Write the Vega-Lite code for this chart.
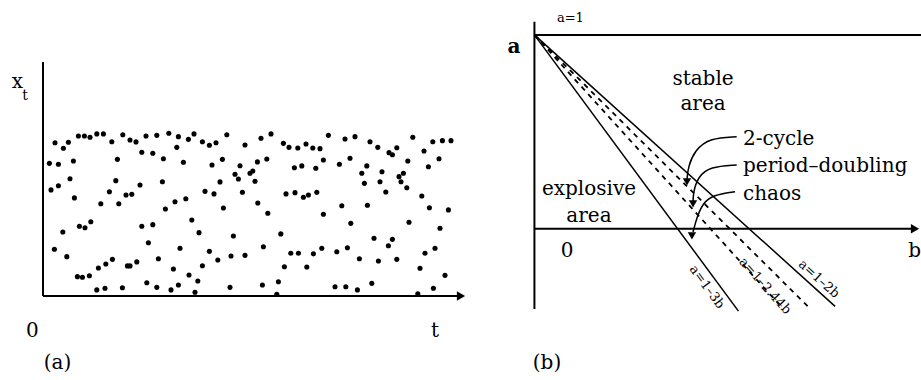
{
  "$schema": "https://vega.github.io/schema/vega-lite/v6.json",
  "padding": 0,
  "spacing": 0,
  "bounds": "flush",
  "background": "white",
  "config": {
    "view": {"stroke": null},
    "text": {"font": "DejaVu Serif", "color": "black"}
  },
  "datasets": {
    "series": [
      {"t":6.0,"x":0.958},{"t":10.2,"x":0.923},{"t":12.7,"x":0.961},{"t":17.7,"x":1.0},{"t":20.7,"x":1.0},{"t":23.5,"x":0.992},{"t":26.9,"x":1.013},{"t":30.2,"x":1.013},{"t":34.4,"x":0.964},{"t":39.9,"x":1.008},{"t":43.5,"x":0.975},{"t":46.5,"x":0.963},{"t":51.5,"x":1.0},{"t":56.9,"x":1.004},{"t":62.9,"x":1.017},{"t":67.7,"x":0.996},{"t":66.9,"x":0.929},{"t":3.2,"x":0.829},{"t":7.7,"x":0.823},{"t":15.2,"x":0.844},{"t":37.2,"x":0.854},{"t":49.4,"x":0.898},{"t":54.9,"x":0.892},{"t":60.2,"x":0.858},{"t":70.2,"x":0.836},{"t":4.0,"x":0.663},{"t":7.7,"x":0.689},{"t":13.5,"x":0.733},{"t":15.7,"x":0.613},{"t":28.9,"x":0.577},{"t":33.2,"x":0.652},{"t":36.4,"x":0.721},{"t":37.9,"x":0.577},{"t":41.5,"x":0.631},{"t":44.4,"x":0.636},{"t":48.5,"x":0.694},{"t":59.7,"x":0.714},{"t":61.2,"x":0.544},{"t":66.0,"x":0.589},{"t":9.9,"x":0.4},{"t":18.2,"x":0.436},{"t":21.0,"x":0.427},{"t":23.9,"x":0.464},{"t":49.4,"x":0.436},{"t":54.9,"x":0.446},{"t":52.7,"x":0.333},{"t":5.7,"x":0.292},{"t":11.9,"x":0.246},{"t":27.7,"x":0.175},{"t":31.4,"x":0.2},{"t":34.7,"x":0.229},{"t":42.2,"x":0.188},{"t":43.5,"x":0.188},{"t":46.9,"x":0.213},{"t":57.7,"x":0.233},{"t":68.5,"x":0.298},{"t":17.2,"x":0.121},{"t":19.7,"x":0.117},{"t":23.2,"x":0.127},{"t":65.2,"x":0.169},{"t":26.9,"x":0.038},{"t":31.0,"x":0.048},{"t":39.7,"x":0.052},{"t":51.9,"x":0.083},{"t":56.9,"x":0.054},{"t":64.0,"x":0.038},{"t":67.7,"x":0.069},
      {"t":72.7,"x":0.979},{"t":75.5,"x":1.013},{"t":79.7,"x":0.964},{"t":83.2,"x":0.942},{"t":86.5,"x":0.958},{"t":91.9,"x":1.008},{"t":101.0,"x":0.944},{"t":109.0,"x":0.986},{"t":114.0,"x":1.013},{"t":120.2,"x":0.954},{"t":123.0,"x":0.929},{"t":127.4,"x":0.925},{"t":131.5,"x":0.95},{"t":134.9,"x":0.925},{"t":138.5,"x":0.921},{"t":84.5,"x":0.819},{"t":89.7,"x":0.854},{"t":98.5,"x":0.814},{"t":96.0,"x":0.761},{"t":97.7,"x":0.731},{"t":103.5,"x":0.767},{"t":104.9,"x":0.781},{"t":106.0,"x":0.717},{"t":107.2,"x":0.838},{"t":111.9,"x":0.856},{"t":125.7,"x":0.802},{"t":129.4,"x":0.813},{"t":136.4,"x":0.798},{"t":140.2,"x":0.85},{"t":88.5,"x":0.713},{"t":81.0,"x":0.654},{"t":85.5,"x":0.638},{"t":99.7,"x":0.648},{"t":71.4,"x":0.608},{"t":107.4,"x":0.581},{"t":90.2,"x":0.55},{"t":112.4,"x":0.517},{"t":121.5,"x":0.638},{"t":126.0,"x":0.646},{"t":130.2,"x":0.617},{"t":132.7,"x":0.631},{"t":136.9,"x":0.648},{"t":74.4,"x":0.475},{"t":140.2,"x":0.511},{"t":78.0,"x":0.396},{"t":95.2,"x":0.375},{"t":118.9,"x":0.388},{"t":83.2,"x":0.279},{"t":87.4,"x":0.225},{"t":94.0,"x":0.25},{"t":101.0,"x":0.254},{"t":110.2,"x":0.308},{"t":123.9,"x":0.267},{"t":127.7,"x":0.267},{"t":135.2,"x":0.263},{"t":139.4,"x":0.298},{"t":79.7,"x":0.189},{"t":120.7,"x":0.183},{"t":131.9,"x":0.181},{"t":73.0,"x":0.131},{"t":77.4,"x":0.094},{"t":117.7,"x":0.089},{"t":76.0,"x":0.023},{"t":93.5,"x":0.054},{"t":109.7,"x":0.069},{"t":116.9,"x":0.011},
      {"t":142.7,"x":1.004},{"t":151.0,"x":0.981},{"t":156.0,"x":0.996},{"t":163.5,"x":0.964},{"t":167.4,"x":0.929},{"t":173.0,"x":0.896},{"t":174.7,"x":0.883},{"t":176.9,"x":0.927},{"t":184.9,"x":0.992},{"t":190.5,"x":0.906},{"t":194.9,"x":0.964},{"t":199.7,"x":0.971},{"t":204.0,"x":0.971},{"t":148.2,"x":0.823},{"t":153.5,"x":0.861},{"t":161.9,"x":0.813},{"t":159.4,"x":0.767},{"t":169.5,"x":0.777},{"t":182.4,"x":0.844},{"t":192.7,"x":0.808},{"t":198.0,"x":0.858},{"t":160.7,"x":0.704},{"t":168.5,"x":0.714},{"t":171.4,"x":0.65},{"t":178.0,"x":0.746},{"t":180.2,"x":0.767},{"t":179.0,"x":0.714},{"t":181.9,"x":0.677},{"t":189.4,"x":0.625},{"t":193.2,"x":0.552},{"t":202.7,"x":0.538},{"t":149.4,"x":0.564},{"t":162.2,"x":0.567},{"t":153.9,"x":0.454},{"t":183.0,"x":0.461},{"t":198.5,"x":0.423},{"t":165.5,"x":0.361},{"t":174.7,"x":0.354},{"t":172.7,"x":0.314},{"t":146.9,"x":0.277},{"t":152.2,"x":0.302},{"t":158.2,"x":0.233},{"t":167.7,"x":0.219},{"t":176.9,"x":0.229},{"t":191.0,"x":0.267},{"t":196.0,"x":0.298},{"t":188.5,"x":0.173},{"t":201.0,"x":0.129},{"t":146.0,"x":0.058},{"t":151.4,"x":0.058},{"t":157.2,"x":0.038},{"t":164.4,"x":0.079},{"t":187.4,"x":0.013},{"t":195.2,"x":0.048}
    ],
    "axesA": [
      {"t":0,"x":0,"t2":0,"x2":1.4625},
      {"t":0,"x":0,"t2":207.5,"x2":0}
    ],
    "arrowA": [{"t":209,"x":0}],
    "labelsA": [
      {"role":"main","text":"0","t":-5.3,"x":-0.256},
      {"role":"main","text":"t","t":196,"x":-0.256},
      {"role":"main","text":"(a)","t":7.25,"x":-0.456},
      {"role":"main","text":"x","t":-12.75,"x":1.3},
      {"role":"sub","text":"t","t":-9,"x":1.225}
    ],
    "axesB": [
      {"b":0,"a":1.068,"b2":0,"a2":-0.414},
      {"b":0,"a":0,"b2":0.88,"a2":0},
      {"b":0,"a":1,"b2":0.9,"a2":1}
    ],
    "bounds": [
      {"kind":"stability","name":"a=1–2b","b":0,"a":1,"b2":0.70,"a2":-0.40},
      {"kind":"stability","name":"a=1–3b","b":0,"a":1,"b2":0.475,"a2":-0.425},
      {"kind":"bifurcation","name":"a=1–2.44b","b":0,"a":1,"b2":0.57,"a2":-0.391},
      {"kind":"bifurcation","name":"a=1–2.2b","b":0,"a":1,"b2":0.64,"a2":-0.408}
    ],
    "pointers": [
      {"arrow":"2-cycle","i":0,"b":0.4709,"a":0.4749},
      {"arrow":"2-cycle","i":1,"b":0.4088,"a":0.4682},
      {"arrow":"2-cycle","i":2,"b":0.3738,"a":0.4064},
      {"arrow":"2-cycle","i":3,"b":0.3575,"a":0.3187},
      {"arrow":"2-cycle","i":4,"b":0.3552,"a":0.2517},
      {"arrow":"period-doubling","i":0,"b":0.4709,"a":0.3290},
      {"arrow":"period-doubling","i":1,"b":0.4088,"a":0.3202},
      {"arrow":"period-doubling","i":2,"b":0.3808,"a":0.2686},
      {"arrow":"period-doubling","i":3,"b":0.3692,"a":0.1845},
      {"arrow":"period-doubling","i":4,"b":0.3692,"a":0.1226},
      {"arrow":"chaos","i":0,"b":0.4670,"a":0.1913},
      {"arrow":"chaos","i":1,"b":0.4157,"a":0.1742},
      {"arrow":"chaos","i":2,"b":0.3925,"a":0.1329},
      {"arrow":"chaos","i":3,"b":0.3785,"a":0.0623},
      {"arrow":"chaos","i":4,"b":0.3692,"a":-0.0166}
    ],
    "heads": [
      {"arrow":"2-cycle","b":0.3552,"a":0.2414},
      {"arrow":"period-doubling","b":0.3692,"a":0.1278},
      {"arrow":"chaos","b":0.3667,"a":-0.0372}
    ],
    "arrowB": [{"b":0.886,"a":0}],
    "labelsB": [
      {"role":"region","text":"stable","b":0.3925,"a":0.7416,"align":"center"},
      {"role":"region","text":"area","b":0.3925,"a":0.6126,"align":"center"},
      {"role":"region","text":"explosive","b":0.127,"a":0.174,"align":"center"},
      {"role":"region","text":"area","b":0.127,"a":0.035,"align":"center"},
      {"role":"region","text":"2-cycle","b":0.4856,"a":0.4319,"align":"left"},
      {"role":"region","text":"period–doubling","b":0.4856,"a":0.2945,"align":"left"},
      {"role":"region","text":"chaos","b":0.4856,"a":0.1484,"align":"left"},
      {"role":"region","text":"0","b":0.0759,"a":-0.1455,"align":"center"},
      {"role":"region","text":"b","b":0.8705,"a":-0.1455,"align":"left"},
      {"role":"region","text":"(b)","b":0.0293,"a":-0.7234,"align":"center"},
      {"role":"axis","text":"a","b":-0.0476,"a":0.9064,"align":"center"},
      {"role":"small","text":"a=1","b":0.0525,"a":1.066,"align":"left"}
    ],
    "lineLabels": [
      {"name":"a=1–3b","b":0.4018,"a":-0.3001},
      {"name":"a=1–2.44b","b":0.5369,"a":-0.2949},
      {"name":"a=1–2b","b":0.6626,"a":-0.2588}
    ]
  },
  "hconcat": [
    {
      "width": 470,
      "height": 380,
      "encoding": {
        "x": {"field": "t", "type": "quantitative", "scale": {"domain": [-21.5, 213.5], "nice": false, "zero": false}, "axis": null},
        "y": {"field": "x", "type": "quantitative", "scale": {"domain": [-0.525, 1.85], "nice": false, "zero": false}, "axis": null}
      },
      "layer": [
        {
          "data": {"name": "axesA"},
          "mark": {"type": "rule", "color": "black", "strokeWidth": 2},
          "encoding": {"x2": {"field": "t2"}, "y2": {"field": "x2"}}
        },
        {
          "data": {"name": "arrowA"},
          "mark": {"type": "point", "shape": "triangle-right", "filled": true, "color": "black", "size": 90, "opacity": 1}
        },
        {
          "data": {"name": "series"},
          "mark": {"type": "point", "shape": "circle", "filled": true, "color": "black", "size": 26, "opacity": 1}
        },
        {
          "data": {"name": "labelsA"},
          "transform": [{"filter": "datum.role === 'main'"}],
          "mark": {"type": "text", "fontSize": 20, "align": "center", "baseline": "alphabetic"},
          "encoding": {"text": {"field": "text"}}
        },
        {
          "data": {"name": "labelsA"},
          "transform": [{"filter": "datum.role === 'sub'"}],
          "mark": {"type": "text", "fontSize": 14, "align": "center", "baseline": "alphabetic"},
          "encoding": {"text": {"field": "text"}}
        }
      ]
    },
    {
      "width": 451,
      "height": 380,
      "encoding": {
        "x": {"field": "b", "type": "quantitative", "scale": {"domain": [-0.15, 0.9], "nice": false, "zero": false}, "axis": null},
        "y": {"field": "a", "type": "quantitative", "scale": {"domain": [-0.78, 1.18], "nice": false, "zero": false}, "axis": null}
      },
      "layer": [
        {
          "data": {"name": "axesB"},
          "mark": {"type": "rule", "color": "black", "strokeWidth": 2},
          "encoding": {"x2": {"field": "b2"}, "y2": {"field": "a2"}}
        },
        {
          "data": {"name": "arrowB"},
          "mark": {"type": "point", "shape": "triangle-right", "filled": true, "color": "black", "size": 90, "opacity": 1}
        },
        {
          "data": {"name": "bounds"},
          "transform": [{"filter": "datum.kind === 'stability'"}],
          "mark": {"type": "rule", "color": "black", "strokeWidth": 1.5},
          "encoding": {"x2": {"field": "b2"}, "y2": {"field": "a2"}}
        },
        {
          "data": {"name": "bounds"},
          "transform": [{"filter": "datum.kind === 'bifurcation'"}],
          "mark": {"type": "rule", "color": "black", "strokeWidth": 1.8, "strokeDash": [5, 5]},
          "encoding": {"x2": {"field": "b2"}, "y2": {"field": "a2"}}
        },
        {
          "data": {"name": "pointers"},
          "mark": {"type": "line", "color": "black", "strokeWidth": 1.5, "interpolate": "basis"},
          "encoding": {"detail": {"field": "arrow"}, "order": {"field": "i", "type": "quantitative"}}
        },
        {
          "data": {"name": "heads"},
          "mark": {"type": "point", "shape": "triangle-down", "filled": true, "color": "black", "size": 70, "opacity": 1}
        },
        {
          "data": {"name": "labelsB"},
          "transform": [{"filter": "datum.role === 'region' && datum.align === 'center'"}],
          "mark": {"type": "text", "fontSize": 20, "align": "center", "baseline": "alphabetic"},
          "encoding": {"text": {"field": "text"}}
        },
        {
          "data": {"name": "labelsB"},
          "transform": [{"filter": "datum.role === 'region' && datum.align === 'left'"}],
          "mark": {"type": "text", "fontSize": 20, "align": "left", "baseline": "alphabetic"},
          "encoding": {"text": {"field": "text"}}
        },
        {
          "data": {"name": "labelsB"},
          "transform": [{"filter": "datum.role === 'axis'"}],
          "mark": {"type": "text", "fontSize": 20, "fontWeight": "bold", "align": "center", "baseline": "alphabetic"},
          "encoding": {"text": {"field": "text"}}
        },
        {
          "data": {"name": "labelsB"},
          "transform": [{"filter": "datum.role === 'small'"}],
          "mark": {"type": "text", "fontSize": 13, "align": "left", "baseline": "alphabetic"},
          "encoding": {"text": {"field": "text"}}
        },
        {
          "data": {"name": "lineLabels"},
          "transform": [{"filter": "datum.name === 'a=1–3b'"}],
          "mark": {"type": "text", "fontSize": 13, "angle": 54, "align": "center", "baseline": "middle"},
          "encoding": {"text": {"field": "name"}}
        },
        {
          "data": {"name": "lineLabels"},
          "transform": [{"filter": "datum.name === 'a=1–2.44b'"}],
          "mark": {"type": "text", "fontSize": 13, "angle": 48, "align": "center", "baseline": "middle"},
          "encoding": {"text": {"field": "name"}}
        },
        {
          "data": {"name": "lineLabels"},
          "transform": [{"filter": "datum.name === 'a=1–2b'"}],
          "mark": {"type": "text", "fontSize": 13, "angle": 42, "align": "center", "baseline": "middle"},
          "encoding": {"text": {"field": "name"}}
        }
      ]
    }
  ]
}
